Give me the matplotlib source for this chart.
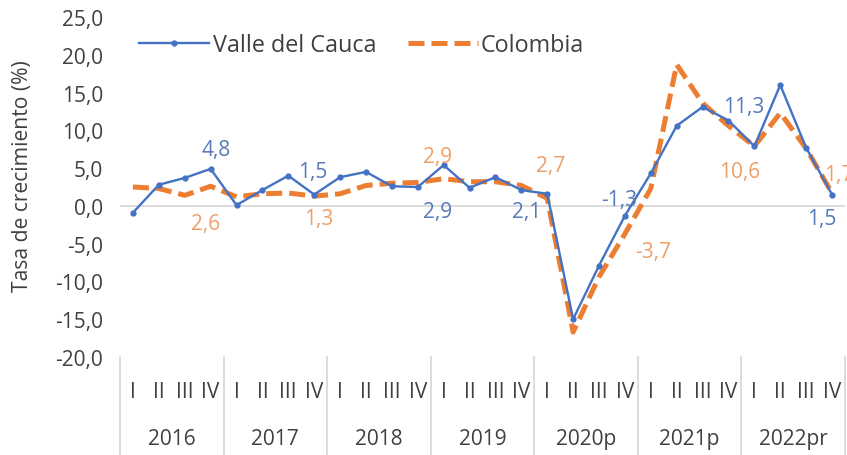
import matplotlib
matplotlib.use("Agg")
import matplotlib.pyplot as plt
import matplotlib.transforms as mtransforms

plt.rcParams['font.family'] = ['Open Sans', 'DejaVu Sans']

years = ["2016", "2017", "2018", "2019", "2020p", "2021p", "2022pr"]
quarters = ["I", "II", "III", "IV"]

valle = [-0.9, 2.8, 3.7, 4.9,
         0.1, 2.1, 4.0, 1.5,
         3.8, 4.5, 2.6, 2.5,
         5.4, 2.4, 3.8, 2.1,
         1.6, -15.0, -7.9, -1.3,
         4.3, 10.6, 13.1, 11.3,
         7.9, 16.0, 7.7, 1.5]

colombia = [2.5, 2.3, 1.4, 2.6,
            1.2, 1.6, 1.7, 1.3,
            1.6, 2.7, 3.0, 3.1,
            3.6, 3.2, 3.2, 2.7,
            1.0, -16.7, -9.4, -3.7,
            2.3, 18.7, 13.6, 10.6,
            7.9, 12.3, 7.6, 1.7]

# data labels: (text, x position, y position)
labels_valle = [("4,8", 3.22, 7.5), ("1,5", 6.94, 4.5), ("2,9", 11.78, -0.7),
                ("2,1", 15.19, -0.7), ("-1,3", 18.79, 0.9), ("11,3", 23.59, 13.2),
                ("1,5", 26.6, -1.7)]
labels_col = [("2,6", 2.79, -2.3), ("1,3", 7.17, -1.7), ("2,9", 11.78, 6.6),
              ("2,7", 16.15, 5.3), ("-3,7", 20.1, -6.1), ("10,6", 23.43, 4.6),
              ("1,7", 27.27, 4.2)]

yticks = [-20, -15, -10, -5, 0, 5, 10, 15, 20, 25]

BLUE = "#4472C4"
ORANGE = "#ED7D31"
BLUE_LBL = "#5679BA"
ORANGE_LBL = "#EE9F66"
TXT = "#404040"
FS = 15

fig = plt.figure(figsize=(8.47, 4.56), dpi=100)
ax = fig.add_axes([120/847, 1-358/456, 725/847, 340/456])

n = len(valle)
x = list(range(n))

ax.axhline(0, color="#D9D9D9", lw=1.3, zorder=1)

l1, = ax.plot(x, valle, color=BLUE, lw=1.7, marker="o", markersize=3.5,
              zorder=3, label="Valle del Cauca")
l2, = ax.plot(x, colombia, color=ORANGE, lw=3.6, dashes=(3.2, 1.4),
              zorder=2, label="Colombia")

for t, xx, yy in labels_valle:
    ax.text(xx, yy, t, color=BLUE_LBL, fontsize=FS, ha="center", va="center",
            zorder=4, clip_on=False)
for t, xx, yy in labels_col:
    ax.text(xx, yy, t, color=ORANGE_LBL, fontsize=FS, ha="center", va="center",
            zorder=4, clip_on=False)

ax.set_xlim(-0.5, n - 0.5)
ax.set_ylim(-20, 25)
ax.set_yticks(yticks)
ax.set_yticklabels([f"{v:.1f}".replace(".", ",") for v in yticks],
                   fontsize=FS, color=TXT)
ax.tick_params(axis="y", length=0, pad=12)
ax.set_xticks([])
for s in ax.spines.values():
    s.set_visible(False)

ax.set_ylabel("Tasa de crecimiento (%)", fontsize=15.2, color=TXT)
ax.yaxis.set_label_coords(-(120 - 33) / 725, (358 - 176) / 340)

trans = mtransforms.blended_transform_factory(ax.transData, ax.transAxes)
# separators for multi-level category axis
for k in range(len(years) + 1):
    xs = k * 4 - 0.5
    ax.plot([xs, xs], [0, -0.3], transform=trans, color="#D9D9D9", lw=1.3,
            clip_on=False)
for i in range(n):
    ax.text(i, -(393 - 358) / 340, quarters[i % 4], transform=trans,
            ha="center", va="center", fontsize=FS, color=TXT)
for k, yr in enumerate(years):
    ax.text(k * 4 + 1.5, -(440 - 358) / 340, yr, transform=trans,
            ha="center", va="center", fontsize=FS, color=TXT)

leg = fig.legend(handles=[l1, l2], loc="center left",
                 bbox_to_anchor=(139/847, 1 - 46/456), ncol=2, frameon=False,
                 fontsize=16.8, handlelength=3.0, handletextpad=0.15,
                 columnspacing=1.35, borderpad=0, borderaxespad=0)
for t in leg.get_texts():
    t.set_color(TXT)

fig.savefig("out.png", dpi=100)
